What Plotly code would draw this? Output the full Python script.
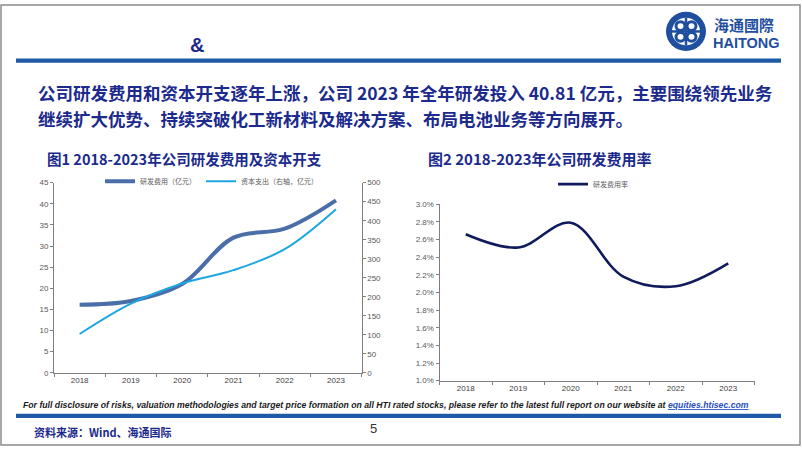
import plotly.graph_objects as go

years = ["2018", "2019", "2020", "2021", "2022", "2023"]
rd_expense = [16.1, 17.0, 21.0, 32.0, 34.1, 40.81]          # 亿元, left axis
capex = [102, 182, 235, 270, 325, 430]                      # 亿元, right axis
rd_ratio = [0.0266, 0.0251, 0.0279, 0.0218, 0.0207, 0.0233]  # 研发费用率

W, H = 802, 452
NAVY = "#1b2a8c"
CJK = "Noto Sans CJK SC"

def px(x):
    return x / W

def py(y):
    return 1 - y / H

fig = go.Figure()

fig.add_trace(go.Scatter(
    x=years, y=rd_expense, name="研发费用（亿元）", mode="lines",
    line=dict(color="#4a6ea8", width=4, shape="spline", smoothing=1.0),
    xaxis="x", yaxis="y", legend="legend"))
fig.add_trace(go.Scatter(
    x=years, y=capex, name="资本支出（右轴，亿元）", mode="lines",
    line=dict(color="#1ea6e0", width=2, shape="spline", smoothing=1.0),
    xaxis="x", yaxis="y2", legend="legend"))
fig.add_trace(go.Scatter(
    x=years, y=rd_ratio, name="研发费用率", mode="lines",
    line=dict(color="#0f1b5c", width=2.6, shape="spline", smoothing=1.0),
    xaxis="x2", yaxis="y3", legend="legend2"))

axis_font = dict(family="Liberation Sans, Arial", size=8, color="#595959")
common_x = dict(type="category", range=[-0.5, 5.5], showline=True, linecolor="#7f7f7f",
                linewidth=1, ticks="outside", tickson="boundaries", ticklen=3,
                tickcolor="#7f7f7f", showgrid=False, zeroline=False,
                tickfont=dict(family="Liberation Sans, Arial", size=8, color="#404040"))
common_y = dict(showline=True, linecolor="#7f7f7f", linewidth=1, ticks="outside",
                ticklen=3, tickcolor="#7f7f7f", showgrid=False, zeroline=False,
                tickfont=axis_font)

fig.update_layout(
    width=W, height=H, margin=dict(l=0, r=0, t=0, b=0),
    paper_bgcolor="white", plot_bgcolor="white",
    xaxis=dict(domain=[px(54), px(361.6)], anchor="y", **common_x),
    yaxis=dict(domain=[py(376.3), py(182.3)], anchor="x", range=[0, 45], dtick=5, **common_y),
    yaxis2=dict(overlaying="y", side="right", anchor="x", range=[0, 500], dtick=50, **common_y),
    xaxis2=dict(domain=[px(439.5), px(754.5)], anchor="y3", **common_x),
    yaxis3=dict(domain=[py(384.3), py(204.3)], anchor="x2", range=[0.01, 0.03], dtick=0.002,
                tickformat=".1%", **common_y),
    legend=dict(orientation="h", x=px(100), y=py(166), xanchor="left", yanchor="top",
                bgcolor="rgba(0,0,0,0)", font=dict(family=CJK, size=7, color="#595959"),
                itemwidth=30, tracegroupgap=0),
    legend2=dict(orientation="h", x=px(553), y=py(169), xanchor="left", yanchor="top",
                 bgcolor="rgba(0,0,0,0)", font=dict(family=CJK, size=7, color="#595959"),
                 itemwidth=30),
    showlegend=True,
)

shapes = []
# slide frame
shapes.append(dict(type="rect", xref="paper", yref="paper", x0=px(1), x1=px(800), y0=py(450), y1=py(1),
                   line=dict(color="#8c8c8c", width=1.5), fillcolor="rgba(0,0,0,0)", layer="below"))
# top and bottom bars
shapes.append(dict(type="rect", xref="paper", yref="paper", x0=px(16), x1=px(781), y0=py(60), y1=py(55.5),
                   line=dict(width=0), fillcolor="#1f5aa6"))
shapes.append(dict(type="rect", xref="paper", yref="paper", x0=px(16), x1=px(781), y0=py(422.5), y1=py(418),
                   line=dict(width=0), fillcolor="#1f5aa6"))
# logo emblem
cx, cy, r = 686, 28, 20
shapes.append(dict(type="circle", xref="paper", yref="paper", x0=px(cx - r), x1=px(cx + r),
                   y0=py(cy + r), y1=py(cy - r), line=dict(width=0), fillcolor="#1f4f9e"))
shapes.append(dict(type="circle", xref="paper", yref="paper", x0=px(cx - 14), x1=px(cx + 14),
                   y0=py(cy + 14), y1=py(cy - 14), line=dict(width=0), fillcolor="white"))
for (a, b) in [(-10, -10), (1, -10), (-10, 1), (1, 1)]:
    shapes.append(dict(type="circle", xref="paper", yref="paper", x0=px(cx + a), x1=px(cx + a + 9),
                       y0=py(cy + b + 9), y1=py(cy + b), line=dict(color="#1f4f9e", width=3),
                       fillcolor="rgba(0,0,0,0)"))
shapes.append(dict(type="line", xref="paper", yref="paper", x0=px(cx - 14), x1=px(cx + 14),
                   y0=py(cy), y1=py(cy), line=dict(color="#1f4f9e", width=2.5)))
shapes.append(dict(type="line", xref="paper", yref="paper", x0=px(cx), x1=px(cx),
                   y0=py(cy - 14), y1=py(cy + 14), line=dict(color="#1f4f9e", width=2.5)))
fig.update_layout(shapes=shapes)

ann = []
def add_text(x, y, text, size, color, family=CJK, xanchor="left", yanchor="middle", **kw):
    ann.append(dict(x=px(x), y=py(y), xref="paper", yref="paper", text=text, showarrow=False,
                    xanchor=xanchor, yanchor=yanchor, align="left",
                    font=dict(family=family, size=size, color=color), **kw))

add_text(188, 42, "<b>&</b>", 20, NAVY, family="Liberation Sans, Arial")
add_text(712, 21, "<b>海通國際</b>", 15, "#1f4f9e")
add_text(711, 40, "<b>HAITONG</b>", 14.5, "#1f4f9e", family="Liberation Sans Narrow, Liberation Sans, Arial")
add_text(36, 90, "<b>公司研发费用和资本开支逐年上涨，公司 2023 年全年研发投入 40.81 亿元，主要围绕领先业务</b>", 17.5, NAVY)
add_text(36, 117, "<b>继续扩大优势、持续突破化工新材料及解决方案、布局电池业务等方向展开。</b>", 17.5, NAVY)
add_text(45, 158, "<b>图1 2018-2023年公司研发费用及资本开支</b>", 14.5, NAVY)
add_text(426, 158, "<b>图2 2018-2023年公司研发费用率</b>", 15, NAVY)
add_text(21, 409, "<b><i>For full disclosure of risks, valuation methodologies and target price formation on all HTI rated stocks, please refer to the latest full report on our website at "
         "<span style='color:#1f4fbf;text-decoration:underline'>equities.htisec.com</span></i></b>",
         8.7, "#1a1a1a", family="Liberation Sans, Arial")
add_text(32, 437, "<b>资料来源：Wind、海通国际</b>", 11, NAVY)
add_text(373, 433, "5", 13, "#333333", family="Liberation Sans, Arial", xanchor="center")
fig.update_layout(annotations=ann)

fig.write_html("out.html", post_script="document.body.style.margin='0';",
               config={"displayModeBar": False})
